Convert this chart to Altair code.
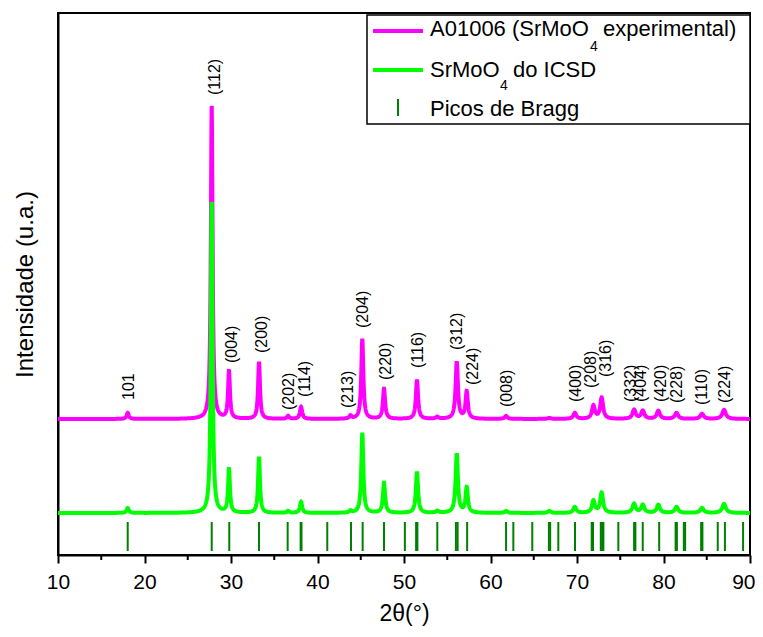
import altair as alt
import numpy as np
import pandas as pd

alt.data_transformers.disable_max_rows()

# ---- data ----
peak_pos = [18.06, 27.77, 29.77, 33.24, 36.6, 38.1, 43.8, 45.18, 47.69, 51.5, 53.85,
            56.1, 57.25, 61.8, 66.8, 69.75, 71.9, 72.85, 76.6, 77.6, 79.4, 81.5, 84.45, 87.0]
exp_height = [6, 313, 47, 57, 3, 12, 3, 80, 30, 39, 2,
              57, 27, 3, 1, 6, 13, 21, 9, 8, 8, 6, 5, 9]
icsd_height = [5, 311, 43, 56, 2, 11, 2, 80, 30, 41, 2,
               59, 25, 2, 2, 6, 12, 20, 9, 8, 8, 6, 5, 9]
peak_hwhm = [0.15, 0.12, 0.13, 0.13, 0.15, 0.15, 0.15, 0.14, 0.15, 0.15, 0.17,
             0.16, 0.16, 0.18, 0.2, 0.2, 0.2, 0.2, 0.22, 0.22, 0.22, 0.23, 0.24, 0.25]
exp_base = 136
icsd_base = 42

bragg_pos = [18.06, 27.77, 29.8, 33.24, 36.55, 38.05, 38.15, 41.13, 43.87, 45.22, 47.69,
             50.1, 51.4, 51.55, 53.85, 56.0, 56.2, 57.3, 61.8, 62.64, 64.83, 66.75, 66.9,
             67.84, 69.77, 71.7, 71.85, 72.75, 72.9, 73.05, 74.78, 76.6, 76.75, 77.6, 79.5,
             81.4, 81.55, 82.35, 82.5, 84.35, 84.5, 86.27, 87.1, 89.2]
bragg_low = 4
bragg_high = 33

label_text = ["101", "(112)", "(004)", "(200)", "(202)", "(114)", "(213)", "(204)", "(220)",
              "(116)", "(312)", "(224)", "(008)", "(400)", "(208)", "(316)", "(332)", "(404)",
              "(420)", "(228)", "(110)", "(224)"]
label_x = [18.21, 28.15, 30.12, 33.58, 36.71, 38.55, 43.53, 45.26, 47.92,
           51.62, 56.09, 57.98, 61.91, 69.88, 71.62, 73.35, 76.21, 77.40,
           79.71, 81.56, 84.45, 87.11]
label_y = [155, 460, 192, 202, 145, 158, 147, 227, 175,
           187, 205, 170, 148, 153, 167, 178, 153, 153,
           153, 152, 150, 152]

x_major = [10, 20, 30, 40, 50, 60, 70, 80, 90]
x_minor = [15, 25, 35, 45, 55, 65, 75, 85]

# ---- build tables ----
grid = np.round(np.arange(10.0, 90.0001, 0.02), 3)


def profile(base, heights):
    y = np.full_like(grid, float(base))
    for p, h, w in zip(peak_pos, heights, peak_hwhm):
        y += h / (1.0 + ((grid - p) / w) ** 2)
    return y


exp_df = pd.DataFrame({"x": grid, "y": profile(exp_base, exp_height)})
icsd_df = pd.DataFrame({"x": grid, "y": profile(icsd_base, icsd_height)})
bragg_df = pd.DataFrame({"x": bragg_pos, "y": [bragg_low] * len(bragg_pos),
                         "y2": [bragg_high] * len(bragg_pos)})
label_df = pd.DataFrame({"x": label_x, "y": label_y, "t": label_text})
minor_df = pd.DataFrame({"x": x_minor})
one = pd.DataFrame({"a": [0]})

FONT = "Liberation Sans"

X_ENC = alt.X("x:Q", scale=alt.Scale(domain=[10, 90], nice=False, zero=False),
              axis=alt.Axis(values=x_major, format="d", tickSize=8, labelFontSize=21,
                            labelPadding=8, labelFlush=False, labelOverlap=False,
                            labelAlign={"condition": {"test": "datum.value == 90",
                                                      "value": "right"},
                                        "value": "center"},
                            labelOffset={"condition": {"test": "datum.value == 90",
                                                       "value": 5},
                                         "value": 0},
                            title="2θ(°)", titleFontSize=23, titlePadding=10,
                            titleFontWeight="normal"))
Y_ENC = alt.Y("y:Q", scale=alt.Scale(domain=[0, 542], nice=False, zero=False),
              axis=alt.Axis(ticks=False, labels=False, title="Intensidade (u.a.)",
                            titleFontSize=24, titlePadding=21, titleFontWeight="normal"))

exp_line = alt.Chart(exp_df).mark_line(color="#ff00ff", strokeWidth=4).encode(x=X_ENC, y=Y_ENC)
icsd_line = alt.Chart(icsd_df).mark_line(color="#00ff00", strokeWidth=4).encode(x=X_ENC, y=Y_ENC)
bragg = alt.Chart(bragg_df).mark_rule(color="#008000", strokeWidth=2).encode(
    x=X_ENC, y=Y_ENC, y2="y2:Q")
minor = alt.Chart(minor_df).mark_rule(color="black", strokeWidth=2).encode(
    x=X_ENC, y=alt.value(542), y2=alt.value(547))
labels = alt.Chart(label_df).mark_text(angle=270, align="left", baseline="middle",
                                       fontSize=16, font=FONT, color="black").encode(
    x=X_ENC, y=Y_ENC, text="t:N")

# ---- legend (drawn by hand) ----
box = alt.Chart(one).mark_rect(fill="white", stroke="black", strokeWidth=1.5).encode(
    x=alt.value(309), x2=alt.value(692), y=alt.value(2), y2=alt.value(111))
leg_l1 = alt.Chart(one).mark_rule(color="#ff00ff", strokeWidth=4).encode(
    x=alt.value(315), x2=alt.value(365), y=alt.value(18))
leg_l2 = alt.Chart(one).mark_rule(color="#00ff00", strokeWidth=4).encode(
    x=alt.value(315), x2=alt.value(365), y=alt.value(57))
leg_l3 = alt.Chart(one).mark_rule(color="#008000", strokeWidth=2).encode(
    x=alt.value(340), y=alt.value(86), y2=alt.value(103))


def txt(s, x, y, size=22):
    return alt.Chart(one).mark_text(align="left", baseline="alphabetic", fontSize=size,
                                    font=FONT, color="black", text=s).encode(
        x=alt.value(x), y=alt.value(y))


legend_texts = [
    txt("A01006 (SrMoO", 372, 23),
    txt("4", 532, 38, 14),
    txt(" experimental)", 545, 23),
    txt("SrMoO", 372, 64),
    txt("4", 442, 77, 14),
    txt(" do ICSD", 455, 64),
    txt("Picos de Bragg", 372, 103),
]

chart = alt.layer(exp_line, icsd_line, bragg, minor, labels, box, leg_l1, leg_l2, leg_l3,
                  *legend_texts).properties(
    width=692, height=542,
    autosize=alt.AutoSizeParams(type="none"),
    padding={"left": 50, "top": 5, "right": 5, "bottom": 74},
).configure_view(stroke="black", strokeWidth=2).configure_axis(
    domainColor="black", domainWidth=2, tickColor="black", tickWidth=2,
    labelColor="black", titleColor="black", labelFont=FONT, titleFont=FONT, grid=False)

chart.save("out.html", embed_options={"renderer": "svg", "actions": False})
